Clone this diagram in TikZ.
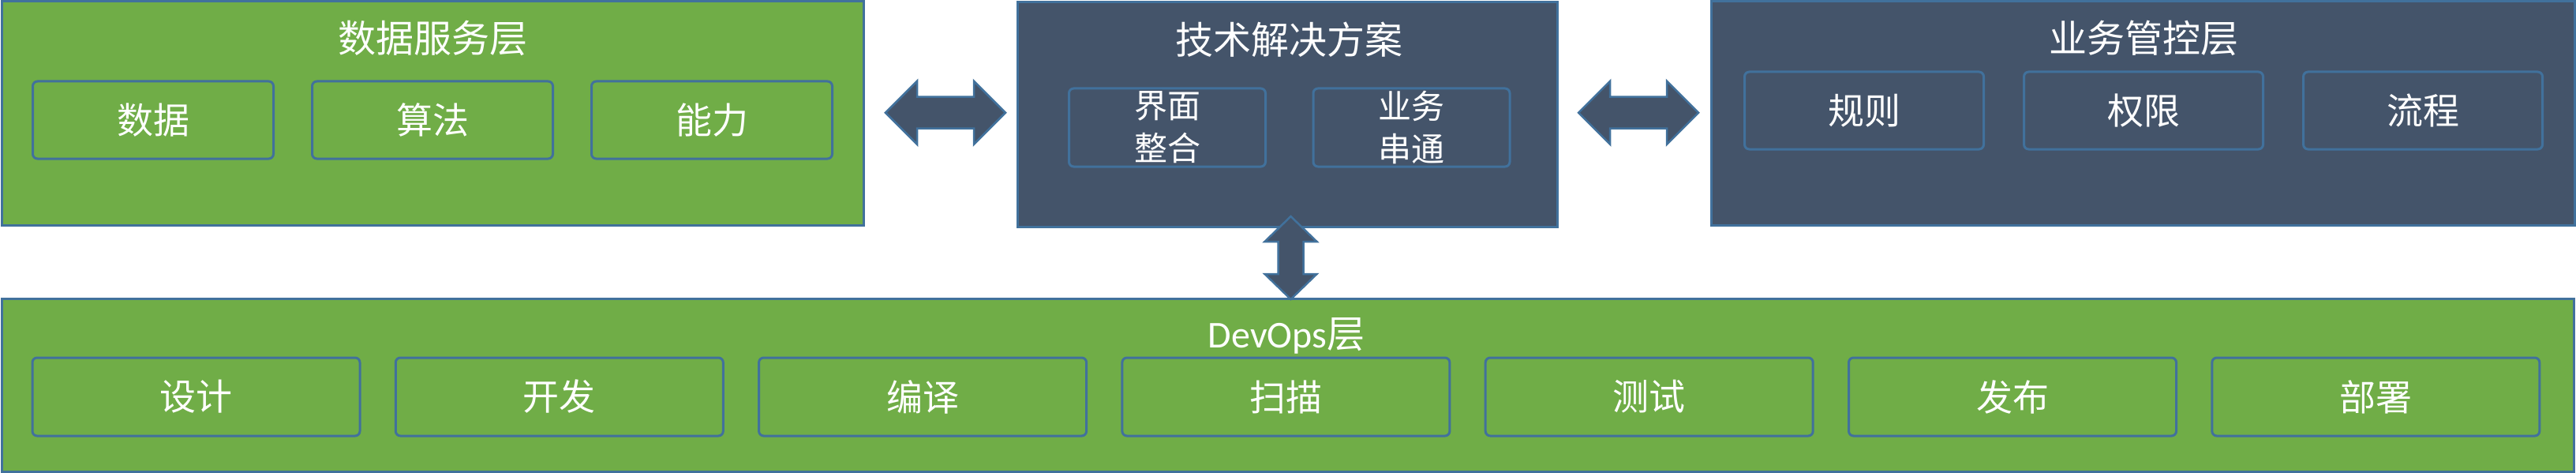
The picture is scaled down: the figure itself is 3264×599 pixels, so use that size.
\documentclass[tikz,border=0pt]{standalone}
\usepackage{fontspec}
\setmainfont{Noto Sans CJK SC}
\newfontfamily\latfont{Carlito}
\usetikzlibrary{calc}
\definecolor{grn}{HTML}{70AD47}
\definecolor{drk}{HTML}{44546A}
\definecolor{brd}{HTML}{41719C}
\tikzset{
  outerbox/.style={draw=brd, line width=3pt, inner sep=0pt, rectangle},
  innerbox/.style={draw=brd, line width=3pt, inner sep=0pt, rounded corners=6pt, rectangle, text=white, font=\fontsize{46}{54}\selectfont},
  titletext/.style={text=white, inner sep=0pt, font=\fontsize{48}{56}\selectfont},
  twoline/.style={align=center, font=\fontsize{42}{54}\selectfont},
  fatarrow/.style={draw=brd, line width=2.5pt, fill=drk, line join=miter}
}
\begin{document}
\begin{tikzpicture}[x=1pt,y=-1pt]
\useasboundingbox (0,0) rectangle (3264,599);
% outer boxes
\node[outerbox, fill=grn, minimum width=1092pt, minimum height=283pt] (data) at (548,143.5) {};
\node[outerbox, fill=drk, minimum width=684pt, minimum height=284pt] (tech) at (1631,145) {};
\node[outerbox, fill=drk, minimum width=1094pt, minimum height=283pt] (ctrl) at (2715,143.5) {};
\node[outerbox, fill=grn, minimum width=3259pt, minimum height=219pt] (devops) at (1632,487.5) {};
% titles
\node[titletext] (datat) at (548,48) {数据服务层};
\node[titletext] (techt) at (1633,50) {技术解决方案};
\node[titletext] (ctrlt) at (2716,48) {业务管控层};
\node[titletext] (devt) at (1630,425) {{\latfont DevOps}层};
% data inner
\node[innerbox, fill=grn, minimum width=305pt, minimum height=98pt] (d1) at (194,152) {数据};
\node[innerbox, fill=grn, minimum width=305pt, minimum height=98pt] (d2) at (548,152) {算法};
\node[innerbox, fill=grn, minimum width=305pt, minimum height=98pt] (d3) at (902,152) {能力};
% tech inner
\node[innerbox, twoline, fill=drk, minimum width=249pt, minimum height=99pt] (t1) at (1479,161.5) {界面\\整合};
\node[innerbox, twoline, fill=drk, minimum width=249pt, minimum height=99pt] (t2) at (1788.5,161.5) {业务\\串通};
% control inner
\node[innerbox, fill=drk, minimum width=303pt, minimum height=98pt] (c1) at (2362,140) {规则};
\node[innerbox, fill=drk, minimum width=303pt, minimum height=98pt] (c2) at (2716,140) {权限};
\node[innerbox, fill=drk, minimum width=303pt, minimum height=98pt] (c3) at (3070,140) {流程};
% devops inner
\foreach \t [count=\i from 0] in {设计,开发,编译,扫描,测试,发布,部署} {
  \node[innerbox, fill=grn, minimum width=415pt, minimum height=99pt] (o\i) at ({248.5+\i*460.3},502.5) {\t};
}
% arrows
\coordinate (a1) at ($(data.east)!0.5!(tech.west)+(6.5,-1.5)$);
\coordinate (a2) at ($(tech.east)!0.5!(ctrl.west)+(5.5,-1.5)$);
\coordinate (a3) at ($(tech.south)!0.5!(devops.north)+(4,-6)$);
\draw[fatarrow] ($(a1)+(-76,0)$) -- ++(40,-40) -- ++(0,20) -- ++(72,0) -- ++(0,-20) -- ++(40,40) -- ++(-40,40) -- ++(0,-20) -- ++(-72,0) -- ++(0,20) -- cycle;
\draw[fatarrow] ($(a2)+(-76,0)$) -- ++(40,-40) -- ++(0,20) -- ++(72,0) -- ++(0,-20) -- ++(40,40) -- ++(-40,40) -- ++(0,-20) -- ++(-72,0) -- ++(0,20) -- cycle;
\draw[fatarrow] ($(a3)+(0,-52.5)$) -- ++(33,32) -- ++(-17,0) -- ++(0,41) -- ++(17,0) -- ++(-33,32) -- ++(-33,-32) -- ++(17,0) -- ++(0,-41) -- ++(-17,0) -- cycle;
\end{tikzpicture}
\end{document}
